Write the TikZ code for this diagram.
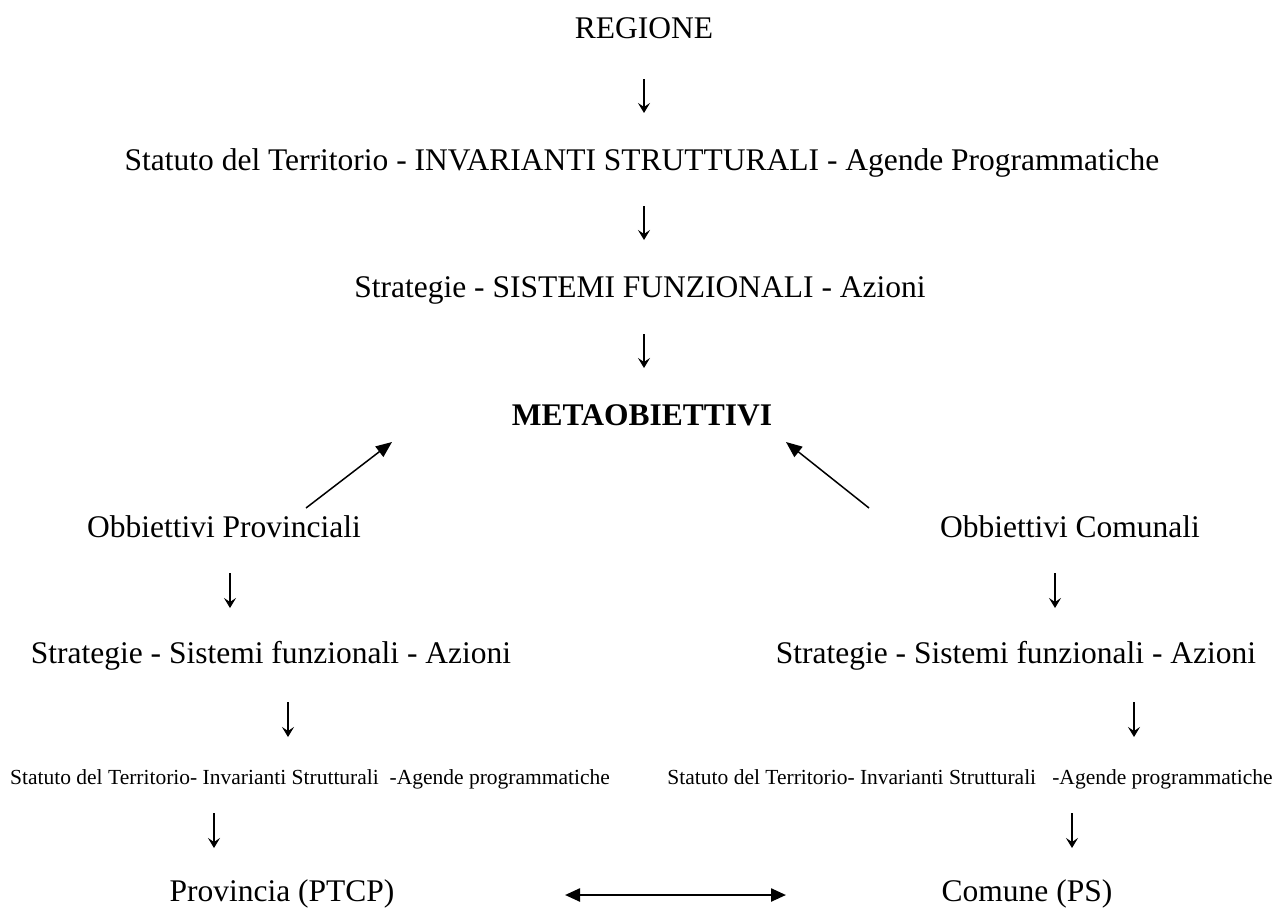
\documentclass[tikz,border=0pt]{standalone}
\usepackage{fontspec}
\setmainfont{Liberation Serif}
\usetikzlibrary{arrows.meta}
\tikzset{
  main/.style={inner sep=0pt, anchor=base, font=\fontsize{31.5}{36}\selectfont},
  small/.style={inner sep=0pt, anchor=base, font=\fontsize{21.5}{25}\selectfont},
  dnarr/.style={line width=1.3pt, -{Stealth[length=10pt,width=12pt,inset=4pt]}},
  diag/.style={line width=1.5pt, -{Triangle[length=16pt,width=13pt]}},
  both/.style={line width=2.4pt, {Triangle[length=15pt,width=13pt]}-{Triangle[length=15pt,width=13pt]}}
}
\begin{document}
\begin{tikzpicture}[x=1pt,y=-1pt]
\useasboundingbox (0,0) rectangle (1272,908);
% top column
\node[main] (reg) at (644,38.4) {REGIONE};
\node[main] (stat) at (642,170.4) {Statuto del Territorio - INVARIANTI STRUTTURALI - Agende Programmatiche};
\node[main] (strat) at (640,297.4) {Strategie - SISTEMI FUNZIONALI - Azioni};
\node[main,font=\fontsize{31.5}{36}\selectfont\bfseries] (meta) at (642,425.4) {METAOBIETTIVI};
\coordinate (d1a) at (644,79);  \coordinate (d1b) at (644,113);
\coordinate (d2a) at (644,206); \coordinate (d2b) at (644,240);
\coordinate (d3a) at (644,334); \coordinate (d3b) at (644,368);
\draw[dnarr] (d1a) -- (d1b);
\draw[dnarr] (d2a) -- (d2b);
\draw[dnarr] (d3a) -- (d3b);
% objectives
\node[main] (obp) at (224,537.4) {Obbiettivi Provinciali};
\node[main] (obc) at (1070,537.4) {Obbiettivi Comunali};
\coordinate (tl) at (306,508);
\coordinate (hl) at (392,442);
\coordinate (tr) at (869,508);
\coordinate (hr) at (786,442);
\draw[diag] (tl) -- (hl);
\draw[diag] (tr) -- (hr);
% left and right columns
\node[main] (stl) at (271,663) {Strategie - Sistemi funzionali - Azioni};
\node[main] (str) at (1016,663) {Strategie - Sistemi funzionali - Azioni};
\node[small] (sml) at (310,784.1) {Statuto del Territorio- Invarianti Strutturali\ \ -Agende programmatiche};
\node[small] (smr) at (970,784.1) {Statuto del Territorio- Invarianti Strutturali\ \ \ -Agende programmatiche};
\node[main] (prov) at (282,901) {Provincia (PTCP)};
\node[main] (com) at (1027,901) {Comune (PS)};
\coordinate (l1a) at (230,573); \coordinate (l1b) at (230,608);
\coordinate (r1a) at (1055,573); \coordinate (r1b) at (1055,608);
\coordinate (l2a) at (288,702); \coordinate (l2b) at (288,737);
\coordinate (r2a) at (1134,702); \coordinate (r2b) at (1134,737);
\coordinate (l3a) at (214,813); \coordinate (l3b) at (214,848);
\coordinate (r3a) at (1072,813); \coordinate (r3b) at (1072,848);
\draw[dnarr] (l1a) -- (l1b);
\draw[dnarr] (r1a) -- (r1b);
\draw[dnarr] (l2a) -- (l2b);
\draw[dnarr] (r2a) -- (r2b);
\draw[dnarr] (l3a) -- (l3b);
\draw[dnarr] (r3a) -- (r3b);
\coordinate (bl) at (565,895);
\coordinate (br) at (786,895);
\draw[both] (bl) -- (br);
\end{tikzpicture}
\end{document}
